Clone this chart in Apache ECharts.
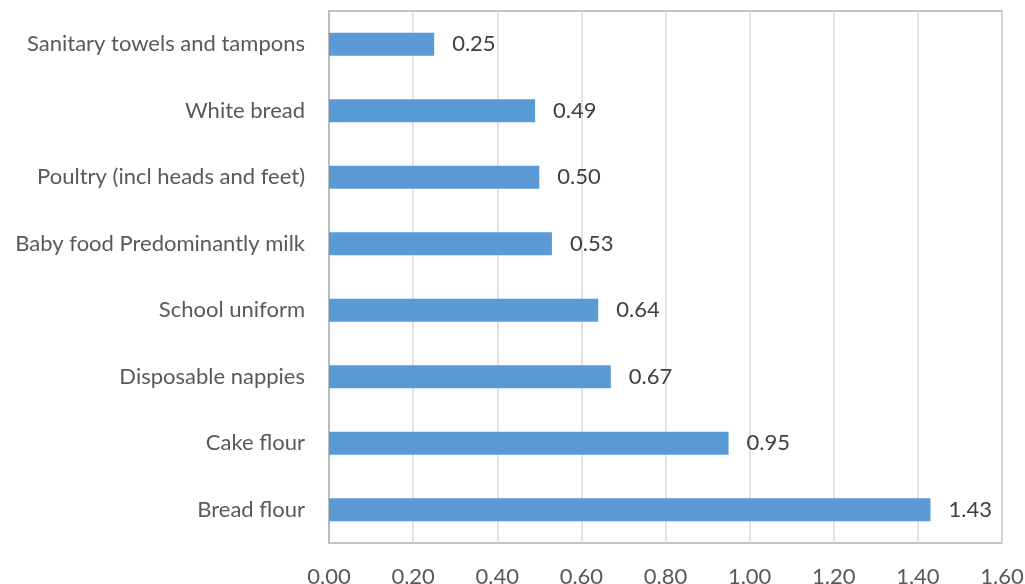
<!DOCTYPE html>
<html>
<head>
<meta charset="utf-8">
<script src="https://cdn.jsdelivr.net/npm/echarts@6/dist/echarts.min.js"></script>
<style>html,body{margin:0;padding:0;background:#fff;}#c{width:1025px;height:584px;}</style>
</head>
<body>
<div id="c"></div>
<script>
const categories = ["Bread flour","Cake flour","Disposable nappies","School uniform","Baby food Predominantly milk","Poultry (incl heads and feet)","White bread","Sanitary towels and tampons"];
const values = [1.43,0.95,0.67,0.64,0.53,0.50,0.49,0.25];
const xTicks = [0,0.2,0.4,0.6,0.8,1.0,1.2,1.4,1.6];

const chart = echarts.init(document.getElementById('c'));
const font = 'Lato, "Open Sans", sans-serif';
chart.setOption({
  animation:false,
  grid:{left:329,right:23,top:11,bottom:41,show:true,borderColor:'#b3b3b3',borderWidth:1.5,containLabel:false,outerBoundsMode:'none'},
  xAxis:{type:'value',min:xTicks[0],max:xTicks[xTicks.length-1],interval:0.2,
    axisLine:{show:false},axisTick:{show:false},
    splitLine:{lineStyle:{color:'#d9d9d9',width:1.5}},
    axisLabel:{color:'#595959',fontFamily:font,fontSize:22,margin:23,formatter:v=>v.toFixed(2)}},
  yAxis:{type:'category',data:categories,
    axisLine:{show:true,lineStyle:{color:'#b3b3b3',width:1.5}},axisTick:{show:false},
    axisLabel:{color:'#595959',fontFamily:font,fontSize:22,margin:24}},
  series:[{type:'bar',data:values,barWidth:23,
    itemStyle:{color:'#5b9bd5'},
    label:{show:true,position:'right',distance:18,color:'#404040',fontFamily:font,fontSize:22,formatter:p=>p.value.toFixed(2)}}]
});
</script>
</body>
</html>
